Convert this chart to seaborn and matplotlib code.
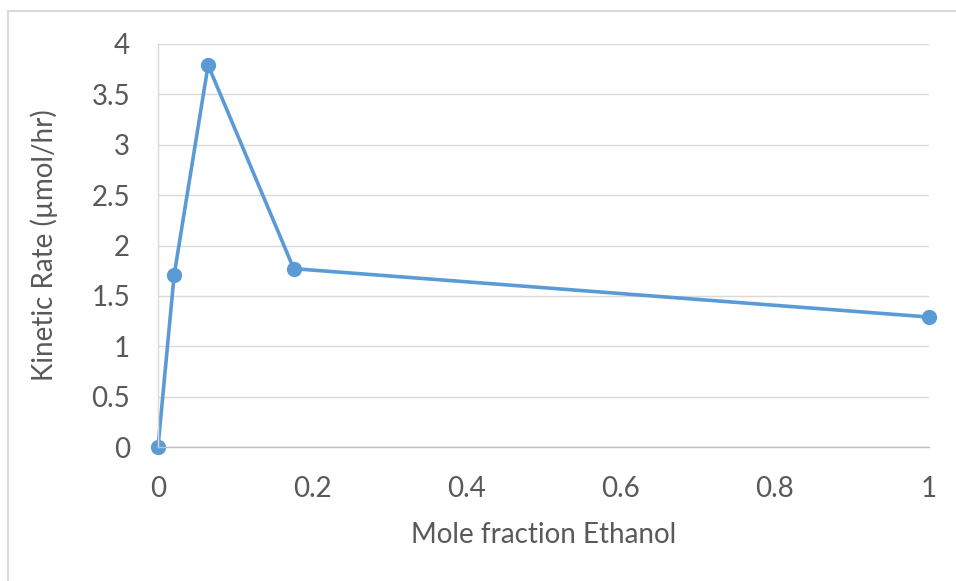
import matplotlib
matplotlib.use("Agg")
import matplotlib.pyplot as plt
import seaborn as sns
import pandas as pd
from matplotlib.lines import Line2D

# Kinetic rate versus ethanol mole fraction
mole_fraction = [0.0, 0.021, 0.065, 0.176, 1.0]
kinetic_rate = [0.0, 1.71, 3.79, 1.77, 1.29]
x_ticks = [0, 0.2, 0.4, 0.6, 0.8, 1]
x_tick_labels = ["0", "0.2", "0.4", "0.6", "0.8", "1"]
y_ticks = [0, 0.5, 1, 1.5, 2, 2.5, 3, 3.5, 4]
y_tick_labels = ["0", "0.5", "1", "1.5", "2", "2.5", "3", "3.5", "4"]

df = pd.DataFrame({"x": mole_fraction, "y": kinetic_rate})

sns.set_style("white")
plt.rcParams["font.family"] = ["Lato", "DejaVu Sans"]

text_color = "#595959"
grid_color = "#d9d9d9"
line_color = "#5B9BD5"

fig = plt.figure(figsize=(9.56, 5.81), dpi=100)
ax = fig.add_axes([158 / 956, 1 - 447 / 581, (929 - 158) / 956, (447 - 44) / 581])

sns.lineplot(data=df, x="x", y="y", ax=ax, color=line_color, linewidth=2.6,
             marker="o", markersize=11, markeredgewidth=0, sort=False)
for line in ax.get_lines():
    line.set_clip_on(False)

ax.set_xlim(0, 1)
ax.set_ylim(0, 4)
ax.set_xticks(x_ticks)
ax.set_xticklabels(x_tick_labels)
ax.set_yticks(y_ticks)
ax.set_yticklabels(y_tick_labels)
ax.tick_params(axis="both", length=0, labelsize=20, labelcolor=text_color)
ax.tick_params(axis="y", pad=20)
ax.tick_params(axis="x", pad=21)

ax.yaxis.grid(True, color=grid_color, linewidth=1)
ax.set_axisbelow(True)
for side in ["top", "right"]:
    ax.spines[side].set_visible(False)
ax.spines["left"].set_color(grid_color)
ax.spines["left"].set_linewidth(1)
ax.spines["bottom"].set_color("#bfbfbf")
ax.spines["bottom"].set_linewidth(1)

ax.set_xlabel("Mole fraction Ethanol", fontsize=20, color=text_color, labelpad=14)
ax.set_ylabel("Kinetic Rate (µmol/hr)", fontsize=20, color=text_color, labelpad=24)

# Chart frame
fig.add_artist(Line2D([8 / 956, 1], [1 - 11 / 581, 1 - 11 / 581],
                      transform=fig.transFigure, color=grid_color, linewidth=1.5))
fig.add_artist(Line2D([8 / 956, 8 / 956], [0, 1 - 11 / 581],
                      transform=fig.transFigure, color=grid_color, linewidth=1.5))

fig.savefig("out.png", dpi=100)
